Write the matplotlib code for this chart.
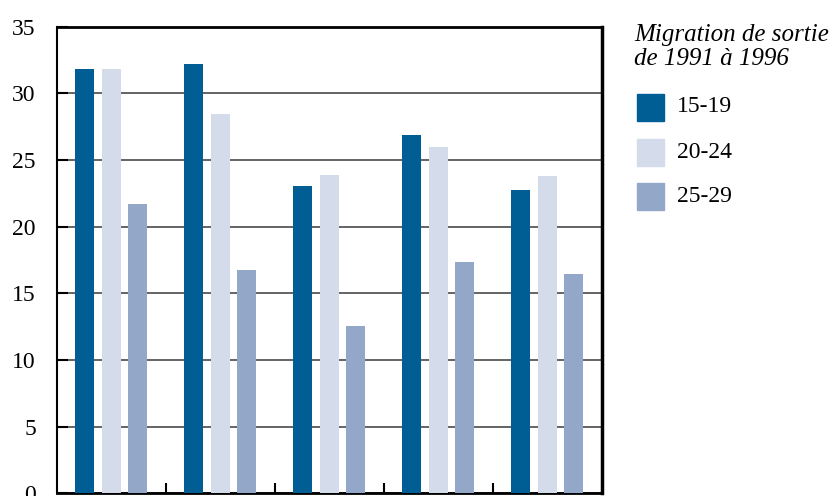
import matplotlib
matplotlib.use("Agg")
import matplotlib.pyplot as plt
from matplotlib.patches import Rectangle
import numpy as np

plt.rcParams['font.family'] = ['Liberation Serif', 'DejaVu Serif']

groups = ["G1", "G2", "G3", "G4", "G5"]
series_names = ["15-19", "20-24", "25-29"]
v_15_19 = [31.8, 32.2, 23.05, 26.9, 22.75]
v_20_24 = [31.8, 28.45, 23.9, 26.0, 23.8]
v_25_29 = [21.7, 16.75, 12.55, 17.35, 16.45]
yticks = [0, 5, 10, 15, 20, 25, 30, 35]
legend_title = "Migration de sortie\nde 1991 à 1996"

colors = ["#005E95", "#D4DBEA", "#93A8C8"]

W, H = 835, 496
fig = plt.figure(figsize=(W / 100, H / 100), dpi=100)
ax = fig.add_axes([56.7 / W, (H - 493.3) / H, (601.7 - 56.7) / W, (493.3 - 26.7) / H])

x = np.arange(len(groups))
bw = 0.174
off = 0.243
for i, (vals, c) in enumerate(zip([v_15_19, v_20_24, v_25_29], colors)):
    ax.bar(x + (i - 1) * off, vals, width=bw, color=c, zorder=3, label=series_names[i])

ax.set_xlim(-0.5, len(groups) - 0.5)
ax.set_ylim(0, 35)
ax.set_yticks(yticks)
ax.set_yticklabels([str(t) for t in yticks], fontsize=17)
ax.yaxis.grid(True, color="#3a3a3a", lw=1.1, zorder=1)
ax.set_xticks(x[:-1] + 0.5)
ax.set_xticklabels([])
ax.tick_params(axis="y", direction="in", length=8, width=1.5, pad=15)
ax.tick_params(axis="x", direction="in", length=7.5, width=1.5)

ax.spines["left"].set_linewidth(1.5)
ax.spines["bottom"].set_linewidth(2)
ax.spines["top"].set_linewidth(2)
ax.spines["right"].set_linewidth(2.5)

# legend (manual, in figure pixel coordinates)
fig.text(634 / W, 1 - 24 / H, legend_title, fontsize=18, style="italic",
         va="top", ha="left", linespacing=1.12)
ys = [107, 152, 197]
for name, c, yc in zip(series_names, colors, ys):
    fig.patches.append(Rectangle((637 / W, 1 - (yc + 13.5) / H), 27 / W, 27 / H,
                                 transform=fig.transFigure, color=c, figure=fig))
    fig.text(677 / W, 1 - yc / H, name, fontsize=17, va="center", ha="left")

fig.savefig("out.png", dpi=100)
